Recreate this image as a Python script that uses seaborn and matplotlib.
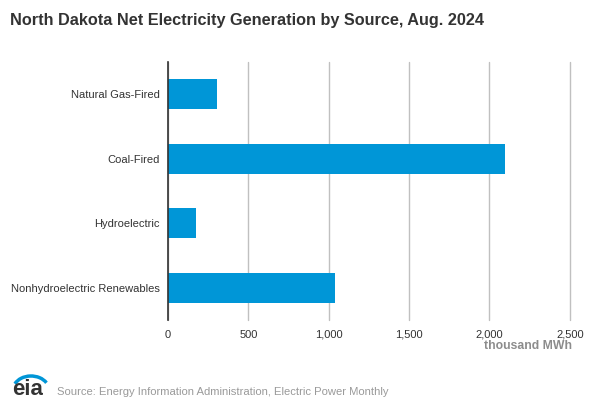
import matplotlib.pyplot as plt
import pandas as pd
import seaborn as sns
from matplotlib.patches import Arc

sources = ["Natural Gas-Fired", "Coal-Fired", "Hydroelectric", "Nonhydroelectric Renewables"]
generation = [308, 2099, 177, 1042]
x_ticks = [0, 500, 1000, 1500, 2000, 2500]

df = pd.DataFrame({"source": sources, "generation": generation})

sns.set_style("white")
plt.rcParams["font.family"] = ["Liberation Sans", "DejaVu Sans"]

fig = plt.figure(figsize=(6.12, 4.08), dpi=100)
ax = fig.add_axes([0.2745, 0.2157, 0.6565, 0.6323])

sns.barplot(data=df, x="generation", y="source", color="#0096d7",
            saturation=1, width=0.47, linewidth=0, ax=ax)

ax.set_xlim(0, 2500)
ax.set_ylim(3.5, -0.5)
ax.set_xticks(x_ticks)
ax.set_xticklabels([f"{v:,}" for v in x_ticks])
ax.grid(axis="x", color="#c0c0c0", linewidth=1)
for gl in ax.get_xgridlines():
    gl.set_clip_on(False)
ax.set_axisbelow(True)
for s in ["top", "right", "bottom"]:
    ax.spines[s].set_visible(False)
ax.spines["left"].set_color("#333333")
ax.spines["left"].set_linewidth(1.2)
ax.spines["left"].set_zorder(5)
ax.set_yticks([-0.5, 0.5, 1.5, 2.5, 3.5], minor=True)
ax.tick_params(axis="y", which="major", length=0, pad=6, labelsize=8, labelcolor="#333333")
ax.tick_params(axis="y", which="minor", length=5, color="#333333", width=1.2)
ax.tick_params(axis="x", length=0, pad=7, labelsize=8, labelcolor="#333333")
ax.set_xlabel("")
ax.set_ylabel("")

fig.text(0.016, 0.95, "North Dakota Net Electricity Generation by Source, Aug. 2024",
         fontsize=11.7, fontweight="bold", color="#333333", va="center")
fig.text(0.935, 0.152, "thousand MWh", fontsize=8.8, fontweight="bold",
         color="#8c8c8c", ha="right", va="center")
fig.text(0.093, 0.04, "Source: Energy Information Administration, Electric Power Monthly",
         fontsize=8.1, color="#9a9a9a", va="center")

# eia logo
fig.text(0.02, 0.032, "eia", fontsize=16, fontweight="bold", color="#333333", va="baseline")
arc = Arc((0.0507, 0.0441), 0.0588, 0.0686, theta1=35, theta2=150,
          transform=fig.transFigure, color="#0096d7", linewidth=2.5)
fig.add_artist(arc)

fig.savefig("out.png", dpi=100)
